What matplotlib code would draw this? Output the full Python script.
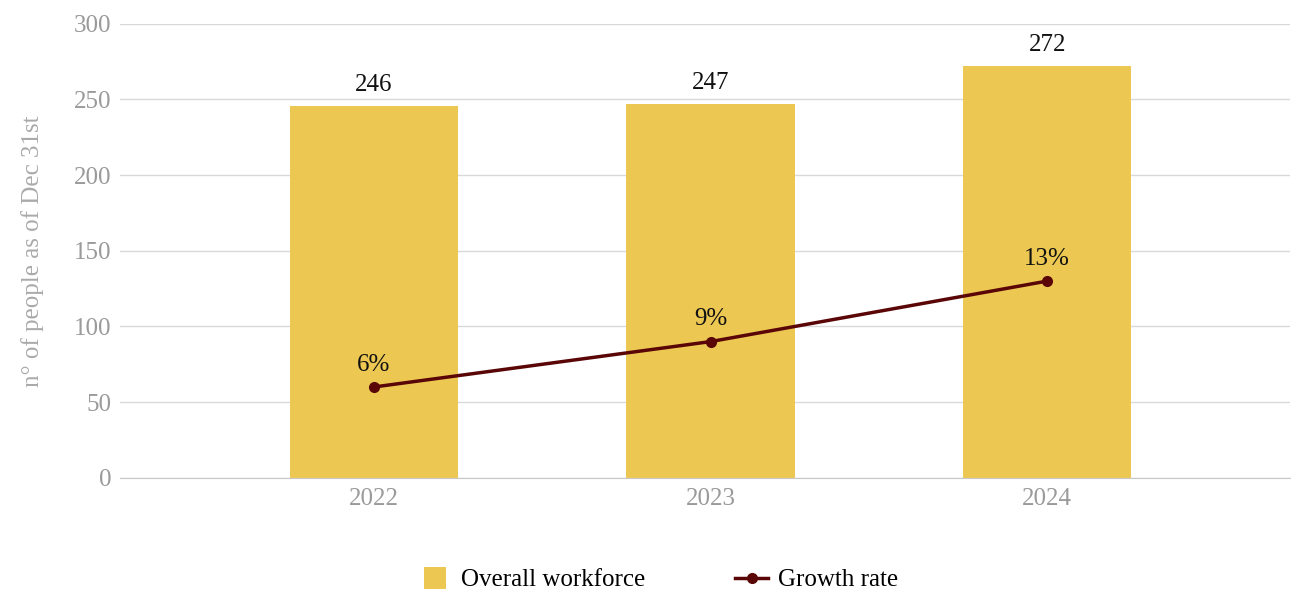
import matplotlib.pyplot as plt
from matplotlib.lines import Line2D

years = ["2022", "2023", "2024"]
workforce = [246, 247, 272]
growth = [6, 9, 13]  # percent

bar_color = "#ECC853"
line_color = "#5A0607"
tick_gray = "#9a9a9a"

plt.rcParams["font.family"] = ["Liberation Serif", "DejaVu Serif"]

fig = plt.figure(figsize=(12.91, 5.95), dpi=100)
ax = fig.add_axes([0.093, 0.197, 0.906, 0.763])

x = range(len(years))
bars = ax.bar(x, workforce, width=0.5, color=bar_color, zorder=2)
for xi, v in zip(x, workforce):
    ax.annotate(str(v), (xi, v), xytext=(0, 7), textcoords="offset points",
                ha="center", va="bottom", fontsize=18, color="#111111")

ax.set_ylim(0, 300)
ax.set_yticks(range(0, 301, 50))
ax.set_xlim(-0.754, 2.72)
ax.set_xticks(list(x))
ax.set_xticklabels(years)
ax.grid(axis="y", color="#d9d9d9", linewidth=1, zorder=0)
ax.set_axisbelow(True)
for s in ["left", "right", "top"]:
    ax.spines[s].set_visible(False)
ax.spines["bottom"].set_color("#c8c8c8")
ax.tick_params(axis="both", length=0, labelsize=18, labelcolor=tick_gray)
ax.tick_params(axis="y", pad=6)
ax.tick_params(axis="x", pad=7)
ax.set_ylabel("n° of people as of Dec 31st", fontsize=18, color="#aaaaaa", labelpad=22)

# growth rate on a hidden secondary scale (0-30 %)
ax2 = ax.twinx()
ax2.set_ylim(0, 30)
ax2.axis("off")
ax2.plot(list(x), growth, color=line_color, linewidth=2.5, marker="o",
         markersize=7, zorder=3)
for xi, g in zip(x, growth):
    ax2.annotate(f"{g}%", (xi, g), xytext=(0, 8), textcoords="offset points",
                 ha="center", va="bottom", fontsize=18, color="#111111")

handles = [
    Line2D([], [], linestyle="none", marker="s", markersize=16,
           markerfacecolor=bar_color, markeredgewidth=0,
           label="Overall workforce"),
    Line2D([], [], color=line_color, linewidth=2.5, marker="o", markersize=7,
           label="Growth rate"),
]
fig.legend(handles=handles, loc="center", bbox_to_anchor=(0.51, 0.025),
           ncol=2, frameon=False, fontsize=18, columnspacing=3.6,
           handlelength=1.3, handletextpad=0.4)

fig.savefig("out.png", dpi=100)
